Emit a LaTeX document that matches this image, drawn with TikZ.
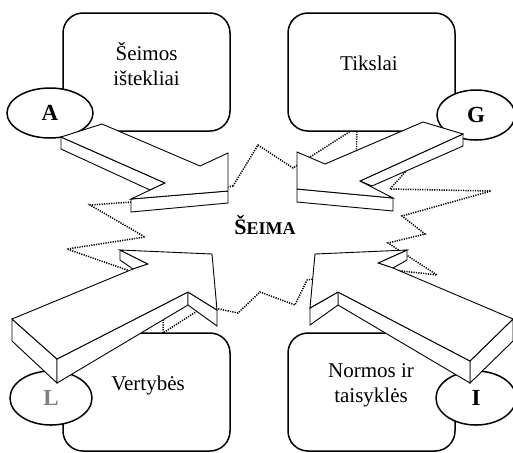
\documentclass[tikz,border=0pt]{standalone}
\usepackage{fontspec}
\setmainfont{Liberation Serif}
\usetikzlibrary{shapes.geometric}

\begin{document}
\begin{tikzpicture}[x=0.5pt, y=-0.5pt,
        panel/.style={draw, fill=white, rounded corners=10pt, line width=0.75pt, minimum width=83.5pt, minimum height=59pt, inner sep=0pt},
        badge/.style={draw, fill=white, ellipse, line width=0.75pt, inner sep=0pt, font=\fontsize{11.5}{13}\selectfont\bfseries},
        caption/.style={align=center, inner sep=0pt, font=\fontsize{10.5}{12.5}\selectfont},
        face/.style={draw, fill=white, line width=0.45pt},
        rim/.style={line width=0.75pt, dash pattern=on 0.6pt off 0.6pt}]
        \useasboundingbox (0,0) rectangle (513,452);

        \draw[rim] (233,186) -- (258,145) -- (293,168) -- (357,127) -- (356,168) -- (415,161) -- (390,189) -- (491,191) -- (402,216) -- (425,234) -- (388,243) -- (437,275) -- (385,269) -- (307,280) -- (295,305) -- (260,292) -- (238,313) -- (205,306) -- (163,333) -- (163,300) -- (130,271) -- (67,249) -- (145,237) -- (90,205) -- (160,200) -- cycle;

        \node (istekliai) [panel] at (146.5,72) {};
        \node (tikslai) [panel] at (371.5,72) {};
        \node (vertybes) [panel] at (146.5,392) {};
        \node (normos) [panel] at (371.5,392) {};

        \node (istekliaitext) [caption] at (146.5,64) {Šeimos\\ištekliai};
        \node (tikslaitext) [caption] at (369,63) {Tikslai};
        \node (vertybestext) [caption] at (148,385) {Vertybės};
        \node (normostext) [caption] at (371,385) {Normos ir\\taisyklės};

        \node (adapt) [badge, minimum width=43pt, minimum height=25pt] at (50,113) {A};
        \node (goal) [badge, minimum width=39pt, minimum height=25pt] at (476,115) {G};
        \node (latent) [badge, minimum width=41pt, minimum height=27pt, text=black!50] at (51,398) {L};
        \node (integr) [badge, minimum width=40pt, minimum height=27pt] at (476,398) {I};

        \draw[face] (61,137) -- (165,183) -- (150,190) -- (61,149) -- cycle;
        \draw[face] (131,199) -- (228,191) -- (228,203) -- (131,212) -- cycle;
        \draw[face] (61,137) -- (102,124) -- (200,166) -- (228,153) -- (228,191) -- (131,199) -- (165,183) -- cycle;

        \draw[face] (463,134) -- (463,146) -- (372,186) -- (360,181) -- cycle;
        \draw[face] (297,189) -- (393,198) -- (393,211) -- (297,202) -- cycle;
        \draw[face] (463,134) -- (423,122) -- (325,164) -- (297,152) -- (297,189) -- (393,198) -- (360,181) -- cycle;

        \draw[face] (12,319) -- (57,359) -- (57,383) -- (12,341) -- cycle;
        \draw[face] (57,359) -- (188,292) -- (188,305) -- (57,383) -- cycle;
        \draw[face] (188,292) -- (217,310) -- (217,326) -- (188,305) -- cycle;
        \draw[face] (120,250) -- (120,260) -- (133,269) -- (148,264) -- cycle;
        \draw[face] (12,319) -- (133,269) -- (148,264) -- (120,250) -- (212,254) -- (217,310) -- (188,292) -- (57,359) -- cycle;

        \draw[face] (470,361) -- (513,319) -- (513,341) -- (470,383) -- cycle;
        \draw[face] (338,292) -- (470,361) -- (470,383) -- (338,305) -- cycle;
        \draw[face] (310,308) -- (338,292) -- (338,305) -- (310,325) -- cycle;
        \draw[face] (407,250) -- (407,260) -- (393,268) -- (378,263) -- cycle;
        \draw[face] (513,319) -- (393,268) -- (378,263) -- (407,250) -- (315,254) -- (310,308) -- (338,292) -- (470,361) -- cycle;

        \node (seima) [inner sep=0pt] at (265,225) {\bfseries\fontsize{11}{13}\selectfont Š{\fontsize{9}{11}\selectfont EIMA}};
\end{tikzpicture}
\end{document}
